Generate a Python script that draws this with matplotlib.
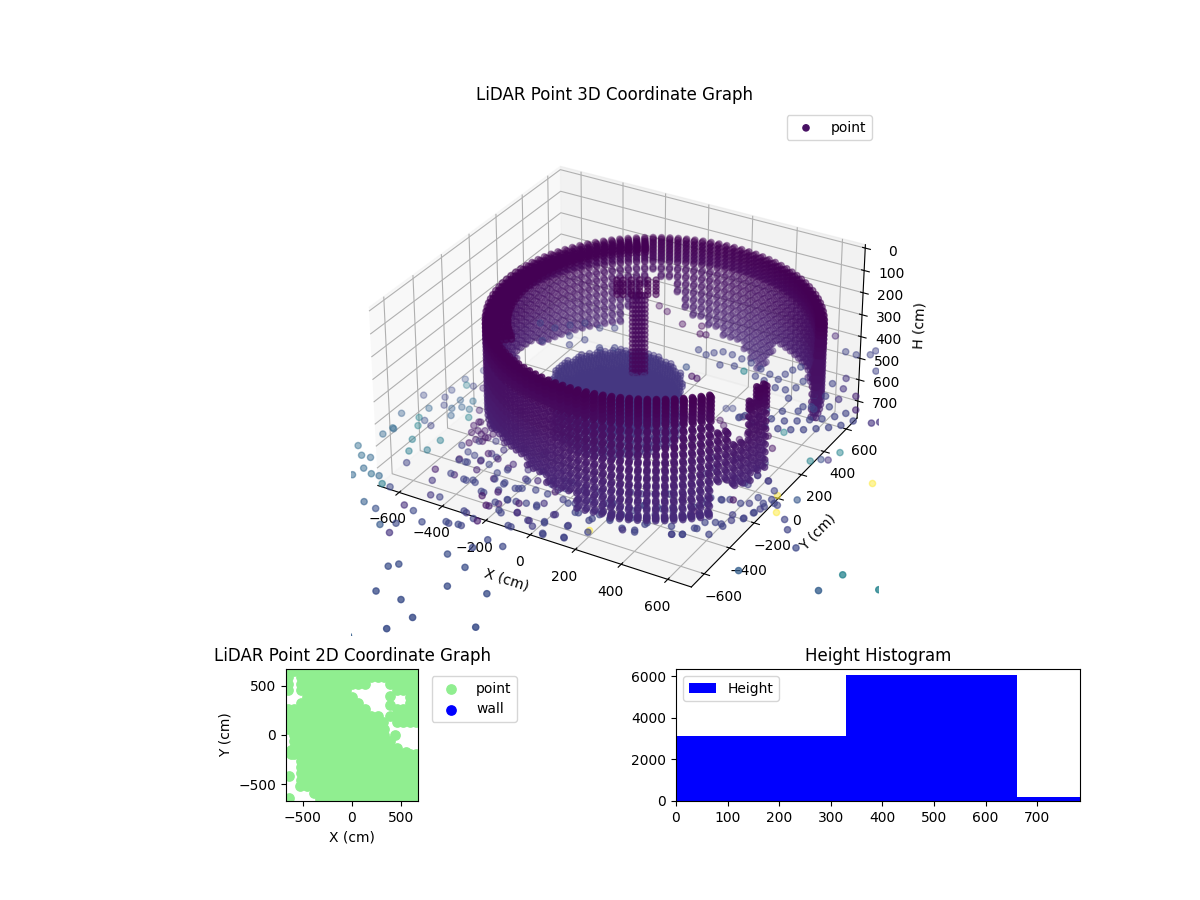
import numpy as np
import matplotlib
matplotlib.use("Agg")
import matplotlib.pyplot as plt

# ---- circular wall, read as azimuth columns about its centre ----
wall_cx, wall_cy = 166, -46
wall_shells = [627, 617, 609]
wall_levels = [120,136,152,168,184,200,216,248,280,312,344,376,408,440,472,504,536,568,600,610]
wall_level_c = [0.0,0.005,0.01,0.015,0.02,0.025,0.03,0.04,0.045,0.05,0.06,0.07,0.075,0.085,0.09,0.1,0.105,0.115,0.12,0.125]
wall_az = [12,15,18,21,24,27,30,33,36,39,42,45,48,51,54,57,60,63,66,69,72,75,78,81,84,87,90,93,96,99,
           102,105,108,111,114,117,120,123,126,129,132,135,138,141,144,147,150,153,156,159,162,165,
           168,171,174,177,180,183,186,189,192,195,198,201,204,207,210,213,216,219,222,225,228,231,
           234,237,240,243,246,249,252,255,258,261,264,267,270,273,276,279,282,285,288,291,294,297,
           300,303,306,309,312,315,318,321,324,327,330,333,336,339]
wall_top = [242,230,205,169] + [120]*(len(wall_az)-4-7) + [254,279,315,327,169,129,132]
wall_bottom = [458,458,458,458,470,470,470,470,470,470,483,483,440,440,450,450,450,450,450,450,
               510,570,600,585,555,535,530,520,500,480,455,440,420,370,310,285,254,315,376,425,
               474,474,474,474,474,474,474,474,474,474,474,474,449,449,449,449] + \
              [520]*16 + [490]*8 + [520]*3 + [560]*4 + [600]*4 + [660]*12 + \
              [486,498,523,523,523,480,480]

# flat upper rim seen along the far and left side of the wall
rim_az = [123,126,129,132,135,138,141,144,147,150,153,156,159,162,165,168,171,174,177,180,183,186,189,192,
          195,198,201,204,207,210,213,216,219,222,225]
rim_shells = [605,585,565,545]
rim_levels = [125,140]

# ---- central column and the round floor patch ----
pillar_x = [50,60,70,80,90]
pillar_y = [-9,-3,3,9,15]
pillar_h = [85,105,125,143,161,179,197,215,233,251,269,287,305,323,341,359,377,395,413]
blob_x = [0,20,46,73,100,126]
blob_y = [-39,-28,-12,3,18,34]
blob_h = [20,35,50,65,80]
disk_cx, disk_cy, disk_r = 27, -86, 250
disk_steps = [-242,-220,-198,-176,-154,-132,-110,-88,-66,-44,-22,0,22,44,66,88,110,132,154,176,198,220,242]
disk_levels = [420,432,500,600]

# ---- scattered returns ----
low_x = [-205,-180,-65,35,-155,-50,45,190,45,5,265,-85,-260,10,-10,80]
low_y = [-1220,-1190,-1050,-1090,-1370,-1370,-1220,-1190,-1440,-1540,-1380,-1640,-920,-900,-970,-910]
low_c = [.24,.24,.24,.24,.24,.24,.24,.24,.24,.24,.24,.3,.22,.22,.22,.22]

right_x = [890,1220,1190,1370,1000,920,880,860,780,850,810,835,600]
right_y = [-650,-490,-620,-510,-420,-330,-275,-135,130,240,160,170,265]
right_c = [.3,.45,.3,.45,.22,.2,.2,.27,.45,.45,.25,.15,.45]

yellow_x = [830,780,1050,300]
yellow_y = [-245,-145,105,-690]

# a return far in front of the camera side, outside the visible frame
beyond_x = [0]
beyond_y = [-2000]
beyond_c = [.3]

left_x = [-792,-741,-703,-682,-692,-635,-602,-561,-523,-601,-549,-486,-408,-358,-412,-366,-352,-564,-603,-639,
          -547,-542,-758,-744,-445,-412,-362,-303,-266,-362,-325,-200,-152,-182,-118,-201,-135,-112,-72,9]
left_y = [-603,-654,-650,-726,-785,-744,-741,-781,-785,-981,-917,-934,-862,-877,-1015,-979,-1042,-613,-539,-462,
          -498,-415,-486,-433,-598,-669,-595,-605,-601,-756,-751,-883,-873,-792,-818,-644,-712,-682,-729,-790]
left_c = [.35,.35,.33,.33,.33,.35,.33,.42,.22,.45,.3,.25,.13,.22,.28,.22,.15,.2,.42,.42,
          .4,.42,.33,.33,.08,.16,.1,.2,.2,.16,.2,.2,.2,.16,.08,.2,.1,.08,.2,.2]

backleft_x = [-684,-710,-710,-784,-703,-680,-653,-782,-711,-639,-592,-673,-634,-605,-571,-706,-540,-675,-751,-676,-633,-607,-533,-612]
backleft_y = [116,22,-76,-164,-135,-15,-8,-322,-237,-124,-106,-188,-193,-166,-165,-314,-218,-322,-429,-367,-342,-240,-152,-2]
backleft_c = [.2,.25,.22,.22,.2,.42,.2,.3,.32,.3,.35,.2,.3,.3,.35,.45,.45,.25,.35,.45,.2,.3,.1,.1]

cluster_x = [-392,-354,-315,-206,-154,-194,-143,-83,-89,-89,-56,40,61,-8,53,88,114,149,227,198,120,175,246,260,312,143,45,33,-35,121,187,244,140,0,
             261,383,428,437,551,585,612,668,674,695,727,742,756,777,636,600,553,548,481,416,369,371,414,468,618,687,635,738,570,708,
             -390,-398,-306,-331,-221,-245,-135,-160,-318,-266,-196,-127,-423,-473,-460,-403,-372,-294]
cluster_y = [-497,-501,-469,-550,-563,-472,-620,-648,-562,-499,-480,-514,-475,-702,-728,-753,-712,-780,-761,-689,-645,-596,-617,-565,-579,-517,-601,-634,-647,-556,-492,-485,-457,-475,
             -476,-610,-601,-525,-547,-528,-468,-480,-397,-358,-322,-270,-217,-178,-233,-254,-281,-372,-410,-413,-431,-527,-316,-311,-110,-52,-38,-102,-119,-173,
             -318,-233,-314,-195,-310,-191,-304,-185,-410,-424,-428,-433,-381,-233,-163,-148,-85,-529]
cluster_c = [.05,.2,.1,.08,.2,.2,.08,.2,.2,.2,.12,.08,.2,.1,.18,.18,.2,.2,.2,.2,.15,.2,.2,.2,.2,.1,.15,.2,.08,.2,.2,.2,.15,.2,
             .2,.15,.2,.2,.18,.2,.2,.2,.2,.18,.18,.2,.2,.2,.05,.2,.2,.05,.18,.2,.2,.2,.2,.06,.2,.1,.08,.2,.05,.2,
             .06,.05,.1,.05,.15,.1,.15,.1,.06,.1,.12,.15,.05,.06,.05,.08,.05,.1]

front_left_x = [-364,-301,-267,-390,-361,-317,-277,-274,-216,-198,-201,-155,-148,-199,-180,-133,-115,-74,-182,-125,-200,-152,9,110,58,144,224,198,282,-7,-12,28,115,187,250,306,253,144,92,23,-29,-79,-101,-86,-51,43,127,183,62,-71,-5,34,-101,-437,-391,-356,-307,-281,-396,-341,-333]
front_left_y = [-599,-608,-597,-503,-503,-463,-417,-474,-509,-460,-550,-553,-608,-647,-671,-718,-684,-723,-791,-817,-884,-877,-793,-705,-727,-774,-758,-684,-686,-705,-633,-625,-649,-593,-601,-569,-540,-544,-544,-540,-539,-554,-567,-647,-642,-498,-450,-432,-428,-416,-452,-430,-493,-410,-438,-447,-404,-359,-352,-320,-256]
front_left_c = [.2,.2,.2,.2,.2,.2,.2,.2,.2,.1,.2,.2,.2,.2,.06,.06,.2,.2,.2,.2,.22,.22,.2,.2,.15,.2,.2,.15,.2,.15,.2,.2,.15,.2,.2,.2,.2,.18,.18,.2,.2,.2,.2,.2,.2,.2,.2,.2,.2,.2,.2,.2,.15,.2,.2,.2,.15,.15,.18,.18,.18]

front_right_x = [265,331,376,422,352,435,371,436,440,525,551,585,603,618,651,686,681,727,741,742,757,793,750,698,670,624,596,557,548,533,532,467,393,366,322,282,248,576,634,635,688,618,609,511,427,465,462,594,379,325,303]
front_right_y = [-474,-525,-602,-590,-482,-538,-427,-464,-417,-501,-546,-527,-470,-418,-399,-408,-323,-326,-274,-198,-160,-184,-238,-224,-240,-237,-253,-261,-310,-348,-424,-387,-311,-342,-367,-375,-394,-102,-113,-39,-53,55,6,23,-11,-77,-123,160,303,345,332]
front_right_c = [.18,.2,.2,.2,.2,.2,.2,.2,.2,.2,.2,.2,.2,.2,.2,.2,.18,.2,.2,.2,.2,.2,.18,.18,.2,.2,.2,.2,.2,.2,.2,.2,.2,.2,.18,.18,.18,.18,.18,.18,.2,.18,.18,.18,.18,.18,.18,.05,.2,.2,.2]

dark_x = [-476,-467,-441,-418,-414,-385,-381,-421,-378,-417,-456,186,272,161,212,182,279,311,325,355,399,456,390,466,539,465]
dark_y = [-265,-230,-289,-276,-348,-346,-313,-233,-282,-304,-312,73,-25,206,207,323,245,175,242,215,166,154,309,279,232,204]
dark_c = [.07,.07,.07,.07,.07,.07,.07,.07,.07,.07,.07,.05,.05,.05,.05,.05,.05,.05,.05,.05,.05,.05,.05,.05,.05,.05]

back_x = [650,738,783,829,834,901,1050,1073,917,960,-3,97,169,216,193,247,372,472,423,270,321,345,-52,708,782,809,783,768,
          290,309,335,376,422,467,520,567,612,617,627,643,570,527,630,670,697,699,
          614,674,725,773,817,857,893,929,961,986,627,674,721,769,809,845,881,914,939,627,677,731,781,824,866,872,853,828,801,820,
          -383,-314,-275,-233,-164,-114,-304,-233,-167,-198,-87,-37]
back_y = [565,475,474,501,538,400,51,72,195,106,412,354,377,325,320,209,148,152,168,71,21,17,436,58,30,45,119,155,
          190,218,242,240,230,220,198,180,162,209,251,286,128,140,102,107,140,195,
          -156,-166,-163,-154,-137,-114,-85,-55,-19,31,-132,-113,-104,-94,-71,-41,-12,25,66,-86,-58,-36,-7,35,78,143,221,295,235,140,
          86,81,130,172,167,196,-28,57,59,-3,34,63]
back_c = [.1,.2,.2,.2,.2,.2,.15,.15,.1,.1,.02,.02,.02,.04,.02,.2,.2,.45,.2,.25,.05,.05,.03,.2,.2,.2,.2,.2,
          .2,.2,.2,.2,.2,.2,.2,.2,.2,.2,.2,.2,.2,.2,.2,.2,.2,.2,
          .2,.2,.2,.2,.2,.2,.2,.2,.2,.2,.2,.2,.2,.2,.2,.2,.2,.2,.2,.2,.2,.2,.2,.2,.2,.15,.15,.15,.2,.2,
          .2,.2,.2,.2,.2,.2,.2,.2,.2,.2,.2,.2]

# each group: x, y, colour value, x shift, y shift, height
scatter_groups = [(low_x, low_y, low_c, -37, -21, 668),
                  (right_x, right_y, right_c, -30, -18, 650),
                  (left_x, left_y, left_c, -14, -8, 675),
                  (backleft_x, backleft_y, backleft_c, -14, -8, 675),
                  (cluster_x, cluster_y, cluster_c, -22, -12, 668),
                  (front_left_x, front_left_y, front_left_c, -22, -12, 668),
                  (front_right_x, front_right_y, front_right_c, -22, -12, 668),
                  (dark_x, dark_y, dark_c, -22, -12, 668),
                  (back_x, back_y, back_c, -24, -14, 365),
                  (beyond_x, beyond_y, beyond_c, 0, 0, 668)]

# ---- 2D map: filled spans of each row, plus the separate lone points ----
map_grid = [-650,-585,-520,-455,-390,-325,-260,-195,-130,-65,0,65,130,195,260,325,390,455,520,585,650]
map_rows = [650,585,520,455,390,325,260,195,130,65,0,-65,-130,-195,-260,-325,-390,-455,-520,-585,-650]
map_spans = [[(-650,650)],[(-650,-650),(-520,650)],[(-650,-650),(-520,130),(390,650)],
             [(-650,-650),(-520,-65),(455,650)],[(-455,0),(585,650)],[(-520,65),(585,650)],
             [(-650,130),(455,650)],[(-650,260),(390,650)],[(-650,260),(455,650)],[(-650,325)],
             [(-585,325)],[(-585,390)],[(-585,455)],[(-585,650)],[(-520,650)],[(-520,650)],
             [(-520,650)],[(-520,650)],[(-455,650)],[(-390,650)],[(-325,650)]]
map_extra_x = [383,383,434,310,549,-620,-637,-525,-644,-620]
map_extra_y = [393,308,0,130,-173,-190,-420,-515,-640,-150]
wall_x2d = []
wall_y2d = []

# ---- histogram ----
hist_edges = [0,330,660,783]
hist_counts = [3120,6050,200]

# ---- assemble 3D points ----
xs, ys, hs, cs = [], [], [], []
for az, top, bot in zip(wall_az, wall_top, wall_bottom):
    for shell in wall_shells:
        for h, c in zip(wall_levels, wall_level_c):
            if top <= h <= bot:
                xs.append(wall_cx + shell*np.cos(np.radians(az)))
                ys.append(wall_cy + shell*np.sin(np.radians(az)))
                hs.append(h); cs.append(c)
for az in rim_az:
    for shell in rim_shells:
        for h in rim_levels:
            xs.append(wall_cx + shell*np.cos(np.radians(az)))
            ys.append(wall_cy + shell*np.sin(np.radians(az)))
            hs.append(h); cs.append(0.0)
for h in pillar_h:
    for x, y in zip(pillar_x, pillar_y):
        xs.append(x); ys.append(y); hs.append(h); cs.append(0.02)
for h in blob_h:
    for x, y in zip(blob_x, blob_y):
        xs.append(x); ys.append(y); hs.append(h); cs.append(0.0)
for h in disk_levels:
    for dx in disk_steps:
        for dy in disk_steps:
            if dx*dx + dy*dy <= disk_r*disk_r:
                xs.append(disk_cx+dx); ys.append(disk_cy+dy); hs.append(h); cs.append(0.16)
for gx, gy, gc, dx, dy, gh in scatter_groups:
    xs.extend(np.array(gx)+dx); ys.extend(np.array(gy)+dy); cs.extend(gc); hs.extend([gh]*len(gx))

# readings above were taken on a ±670 box; the axes run to ±700 with heights to -15
xs = np.array(xs)*1.035
ys = np.array(ys)*1.035
hs = 700 + (np.array(hs)-700)*1.05

fig = plt.figure(figsize=(12, 9), dpi=100)

ax3 = fig.add_axes([351/1200, 1-636/900, 528/1200, 528/900], projection='3d')
sc = ax3.scatter(xs, ys, hs, c=cs, cmap='viridis', vmin=0, vmax=1, s=20, label='point')
ax3.scatter((np.array(yellow_x)-30)*1.035, (np.array(yellow_y)-18)*1.035, [650-2.5]*len(yellow_x),
            color='#fde725', s=20, alpha=0.45, depthshade=False)
ax3.set_xlim(-700, 700)
ax3.set_ylim(-700, 700)
ax3.set_zlim(780, -15)
ax3.set_box_aspect((1400, 1400, 795))
ax3.set_zticks([0,100,200,300,400,500,600,700])
ax3.set_xlabel('X (cm)')
ax3.set_ylabel('Y (cm)')
ax3.set_zlabel('H (cm)')
ax3.set_title('LiDAR Point 3D Coordinate Graph')
ax3.legend(loc='upper right')

ax2 = fig.add_axes([286/1200, 1-801/900, 132/1200, 132/900])
mx, my = [], []
for y, spans in zip(map_rows, map_spans):
    for x in map_grid:
        if any(lo <= x <= hi for lo, hi in spans):
            mx.append(x); my.append(y)
mx += map_extra_x
my += map_extra_y
ax2.scatter(mx, my, c='lightgreen', s=45, label='point')
ax2.scatter(wall_x2d, wall_y2d, c='blue', s=45, label='wall')
ax2.set_xlim(-670, 670)
ax2.set_ylim(-670, 670)
ax2.set_xlabel('X (cm)')
ax2.set_ylabel('Y (cm)')
ax2.set_title('LiDAR Point 2D Coordinate Graph')
ax2.legend(loc='upper left', bbox_to_anchor=(1.05, 1))

ax1 = fig.add_axes([676/1200, 1-801/900, 404/1200, 132/900])
ax1.bar(hist_edges[:-1], hist_counts, width=np.diff(hist_edges), align='edge', color='blue', label='Height')
ax1.set_xlim(hist_edges[0], hist_edges[-1])
ax1.set_title('Height Histogram')
ax1.legend(loc='upper left')

fig.savefig('out.png', dpi=100)
